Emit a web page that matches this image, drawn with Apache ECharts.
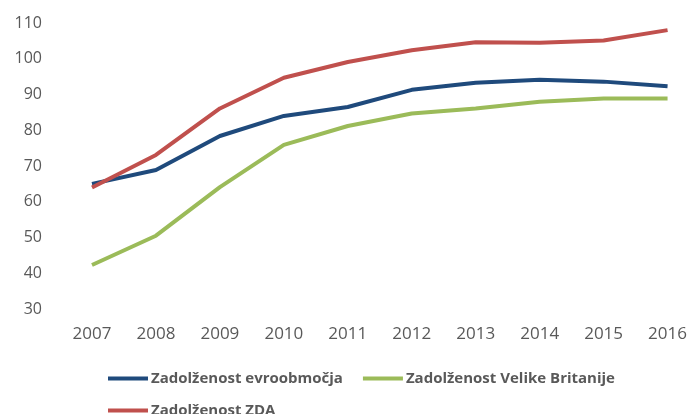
<!DOCTYPE html>
<html lang="sl">
<head>
    <meta charset="UTF-8">
    <title>Zadolženost</title>
    <script src="https://cdn.jsdelivr.net/npm/echarts@6.0.0/dist/echarts.min.js"></script>
    <style>
        body { margin: 0; background: #fff; }
    </style>
</head>
<body>
    <div id="main" style="width: 690px;height:414px;"></div>
    <script type="text/javascript">
        // data
        const years = ['2007', '2008', '2009', '2010', '2011', '2012', '2013', '2014', '2015', '2016'];
        const evroobmocje = [65.0, 68.9, 78.4, 84.0, 86.5, 91.3, 93.3, 94.1, 93.6, 92.3];
        const velikaBritanija = [42.3, 50.5, 64.1, 75.9, 81.2, 84.7, 86.1, 88.0, 88.9, 88.9];
        const zda = [64.0, 73.1, 86.1, 94.7, 99.1, 102.4, 104.6, 104.5, 105.1, 108.0];

        const names = ['Zadolženost evroobmočja', 'Zadolženost Velike Britanije', 'Zadolženost ZDA'];
        const colors = ['#1F4A7C', '#9BBB59', '#C0504D'];

        let myChart = echarts.init(document.getElementById('main'));

        const legendBase = {
            icon: 'rect',
            itemWidth: 40,
            itemHeight: 4,
            itemGap: 20,
            textStyle: {
                fontFamily: 'Open Sans',
                fontWeight: 'bold',
                fontSize: 15,
                color: '#595959',
                padding: [0, 0, 0, -2]
            }
        };

        let options = {
            animation: false,
            color: colors,
            legend: [
                Object.assign({}, legendBase, { left: 103, top: 366, data: [names[0], names[1]] }),
                Object.assign({}, legendBase, { left: 103, top: 398, data: [names[2]] })
            ],
            grid: { left: 92, right: 22, top: 23, bottom: 105 },
            xAxis: {
                type: 'category',
                data: years,
                boundaryGap: false,
                axisLine: { show: false },
                axisTick: { show: false },
                axisLabel: {
                    margin: 17,
                    fontFamily: 'Open Sans',
                    fontSize: 17,
                    color: '#595959'
                }
            },
            yAxis: {
                type: 'value',
                min: 30,
                max: 110,
                interval: 10,
                splitLine: { show: false },
                axisLabel: {
                    margin: 50,
                    fontFamily: 'Open Sans',
                    fontSize: 16,
                    color: '#595959'
                }
            },
            series: [
                { name: names[0], type: 'line', data: evroobmocje, showSymbol: false, lineStyle: { width: 4 } },
                { name: names[1], type: 'line', data: velikaBritanija, showSymbol: false, lineStyle: { width: 4 } },
                { name: names[2], type: 'line', data: zda, showSymbol: false, lineStyle: { width: 4 } }
            ]
        };

        myChart.setOption(options);
    </script>
</body>
</html>
